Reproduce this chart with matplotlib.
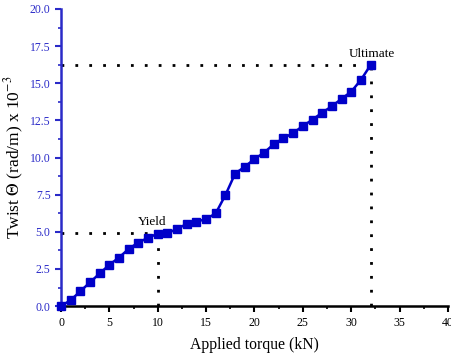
import matplotlib
matplotlib.use("Agg")
import matplotlib.pyplot as plt
from matplotlib.ticker import MultipleLocator

torque = list(range(0, 33))
twist = [0.0, 0.4, 1.0, 1.6, 2.2, 2.78, 3.27, 3.85, 4.28, 4.6, 4.87, 4.9, 5.2, 5.53,
         5.69, 5.85, 6.25, 7.48, 8.92, 9.38, 9.9, 10.33, 10.9, 11.3, 11.65, 12.12,
         12.55, 13.02, 13.45, 13.95, 14.43, 15.22, 16.22]
yield_pt = (10, 4.9)
ult_pt = (32, 16.22)

blue_axis = "#2a2ac8"
plt.rcParams['font.family'] = ['Liberation Serif', 'DejaVu Serif']
plt.rcParams['mathtext.fontset'] = 'stix'

fig = plt.figure(figsize=(4.52, 3.58), dpi=100)
ax = fig.add_axes([0.135, 0.145, 0.856, 0.83])

dot = (0, (1, 4))
ax.plot([0, yield_pt[0]], [yield_pt[1], yield_pt[1]], color='black', lw=2, ls=dot, zorder=2)
ax.plot([yield_pt[0], yield_pt[0]], [0, yield_pt[1]], color='black', lw=2, ls=dot, zorder=2)
ax.plot([0, ult_pt[0]], [ult_pt[1], ult_pt[1]], color='black', lw=2, ls=dot, zorder=2)
ax.plot([ult_pt[0], ult_pt[0]], [0, ult_pt[1]], color='black', lw=2, ls=dot, zorder=2)

ax.plot(torque, twist, color='#0000c8', lw=1.8, marker='s', markersize=5.5, zorder=3, clip_on=False)

ax.text(9.4, 5.65, "Yield", ha='center', va='center', fontsize=9.5)
ax.text(32.1, 17.0, "Ultimate", ha='center', va='center', fontsize=9.5)

ax.set_xlim(0, 40)
ax.set_ylim(0, 20)
ax.xaxis.set_major_locator(MultipleLocator(5))
ax.xaxis.set_minor_locator(MultipleLocator(2.5))
ax.yaxis.set_major_locator(MultipleLocator(2.5))
ax.yaxis.set_minor_locator(MultipleLocator(1.25))
ax.yaxis.set_major_formatter(matplotlib.ticker.FormatStrFormatter('%.1f'))

for s in ['top', 'right']:
    ax.spines[s].set_visible(False)
ax.spines['left'].set_color(blue_axis)
ax.spines['left'].set_linewidth(1.8)
ax.spines['bottom'].set_color('black')
ax.spines['bottom'].set_linewidth(1.8)

ax.tick_params(axis='x', which='major', direction='out', length=4, width=1.5, colors='black', labelsize=8.5)
ax.tick_params(axis='x', which='minor', direction='out', length=2.5, width=1.2, colors='black')
ax.tick_params(axis='y', which='major', direction='out', length=4, width=1.5, colors=blue_axis, labelsize=8.5)
ax.tick_params(axis='y', which='minor', direction='out', length=2.5, width=1.2, colors=blue_axis)

ax.set_xlabel("Applied torque (kN)", fontsize=11.3, labelpad=6)
ax.set_ylabel(r"Twist $\Theta$ (rad/m) x 10$^{-3}$", fontsize=12.5, labelpad=3)

fig.savefig("out.png", dpi=100)
